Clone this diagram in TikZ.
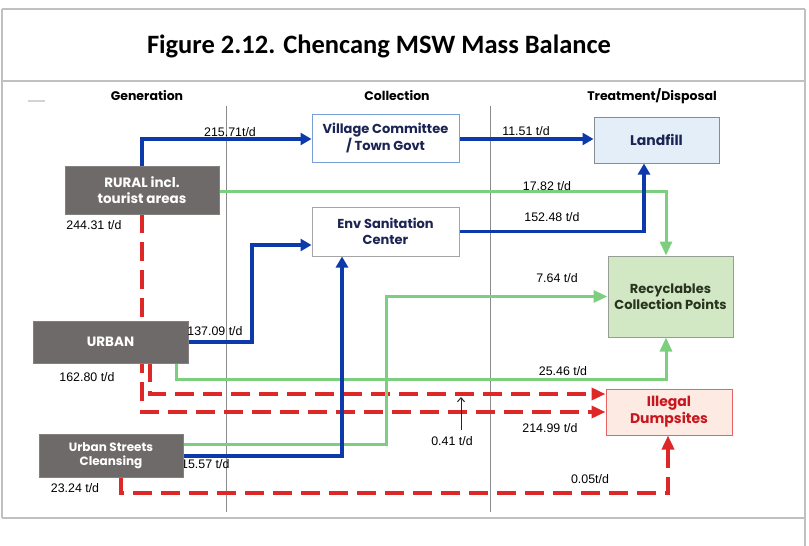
\documentclass[tikz,border=0pt]{standalone}
\usepackage{fontspec}
\setmainfont{Liberation Sans}
\newfontfamily\titlefont{Carlito}
\newfontfamily\gothic{Poppins}
\usetikzlibrary{arrows.meta,calc}
\pgfdeclarelayer{bg}
\pgfsetlayers{bg,main}
\definecolor{framegray}{RGB}{192,192,192}
\definecolor{sepgray}{RGB}{140,140,140}
\definecolor{srcgray}{RGB}{110,106,105}
\definecolor{flowblue}{RGB}{12,58,170}
\definecolor{flowgreen}{RGB}{125,207,128}
\definecolor{flowred}{RGB}{222,40,40}
\definecolor{navytext}{RGB}{28,36,84}
\definecolor{vilborder}{RGB}{120,160,215}
\definecolor{envborder}{RGB}{165,165,165}
\definecolor{lffill}{RGB}{228,238,249}
\definecolor{lfborder}{RGB}{135,140,148}
\definecolor{recfill}{RGB}{210,232,196}
\definecolor{recborder}{RGB}{150,158,150}
\definecolor{rectext}{RGB}{40,52,30}
\definecolor{illfill}{RGB}{253,235,227}
\definecolor{illborder}{RGB}{232,100,100}
\definecolor{illtext}{RGB}{200,22,30}
\begin{document}
\begin{tikzpicture}[x=1pt,y=-1pt,
  frameline/.style={draw=framegray,line width=1.8pt},
  sepline/.style={draw=sepgray,line width=0.9pt},
  srcbox/.style={fill=srcgray,draw=srcgray!85!white,line width=0.8pt,text=white,
    font=\gothic\bfseries\fontsize{13.5}{16}\selectfont,align=center,inner sep=0pt},
  colbox/.style={fill=white,line width=1pt,text=navytext,
    font=\gothic\bfseries\fontsize{13}{15.5}\selectfont,align=center,inner sep=0pt},
  hdr/.style={font=\gothic\bfseries\fontsize{12.5}{14}\selectfont,inner sep=0pt},
  flowlbl/.style={font=\fontsize{12.4}{14}\selectfont,inner sep=0pt},
  blueflow/.style={draw=flowblue,line width=3.6pt,-{Triangle[length=11pt,width=12pt]}},
  greenflow/.style={draw=flowgreen,line width=3pt,-{Triangle[length=14pt,width=12pt]}},
  redflow/.style={draw=flowred,line width=4pt,dash pattern=on 19pt off 9pt,
    -{Triangle[length=14pt,width=12pt]}}
]
\useasboundingbox (0,0) rectangle (809,546);
% frame
\draw[frameline] (2,9) -- (805,9);
\draw[frameline] (2,9) -- (2,518);
\draw[frameline] (805,9) -- (805,546);
\draw[frameline] (2,81) -- (805,81);
\draw[frameline] (2,518) -- (805,518);
\draw[draw=framegray!70,line width=1.2pt] (28,101) -- (45,101);
\node[font=\titlefont\bfseries\fontsize{26.5}{30}\selectfont,inner sep=0pt] (title) at (379,46) {Figure 2.12. Chencang MSW Mass Balance};
% headers
\node[hdr] (hgen) at (147,96) {Generation};
\node[hdr] (hcol) at (397,96) {Collection};
\node[hdr] (htrt) at (652,96) {Treatment/Disposal};
% boxes
\node[srcbox,minimum width=154pt,minimum height=48pt] (rural) at (142,190) {RURAL incl.\\tourist areas};
\node[srcbox,minimum width=155pt,minimum height=42pt] (urban) at (110.5,342) {URBAN};
\node[srcbox,minimum width=144pt,minimum height=43pt,font=\gothic\bfseries\fontsize{12}{14.5}\selectfont] (streets) at (111,455.5) {Urban Streets\\Cleansing};
\node[colbox,draw=vilborder,minimum width=147pt,minimum height=48pt] (village) at (385.5,138) {Village Committee\\/ Town Govt};
\node[colbox,draw=envborder,minimum width=147pt,minimum height=49pt] (env) at (385.5,231.5) {Env Sanitation\\Center};
\node[colbox,fill=lffill,draw=lfborder,minimum width=125pt,minimum height=46pt,font=\gothic\bfseries\fontsize{14}{16}\selectfont] (landfill) at (656.5,140) {Landfill};
\node[colbox,fill=recfill,draw=recborder,text=rectext,minimum width=125pt,minimum height=81pt] (recyc) at (670.5,296.5) {Recyclables\\Collection Points};
\node[colbox,fill=illfill,draw=illborder,text=illtext,minimum width=126pt,minimum height=46pt,font=\gothic\bfseries\fontsize{14}{17}\selectfont] (illegal) at (669,412) {Illegal\\Dumpsites};
% helper coordinates
\coordinate (b4) at (252,245);
\coordinate (g7) at (386,400);
\coordinate (g8) at (176,379);
\coordinate (r10) at (121,493);
\coordinate (p041) at (461,397);
\coordinate (q041) at (461,430);
\coordinate (vE) at ($(village.east)+(0,1)$);
\coordinate (vW) at ($(village.west)+(0,1)$);
\coordinate (lS) at ($(landfill.south)+(-12.5,0)$);
\coordinate (eS) at ($(env.south)+(-43.5,0)$);
\coordinate (sE) at ($(streets.east)+(0,0.5)$);
\coordinate (sEg) at ($(streets.east)+(0,-11.5)$);
\coordinate (sS) at ($(streets.south)+(10,0)$);
\coordinate (uS) at ($(urban.south)+(39.5,0)$);
\coordinate (iW) at ($(illegal.west)+(0,-18)$);
\coordinate (rE) at ($(rural.east)+(0,1)$);
\coordinate (rN) at ($(recyc.north)+(-4.5,0)$);
\coordinate (rS) at ($(recyc.south)+(-4.5,0)$);
\coordinate (iS) at ($(illegal.south)+(-1,0)$);
\begin{pgfonlayer}{bg}
\draw[sepline] (226,106) -- (226,512);
\draw[sepline] (490,106) -- (490,512);
% red flows
\draw[redflow] (rural.south) |- (illegal.west);
\draw[redflow] (uS) |- (iW);
\draw[redflow] (sS) -- (sS |- r10) -- (r10 -| iS) -- (iS);
% green flows
\draw[greenflow] (rE) -| (rN);
\draw[greenflow] (sEg) -- (sEg -| g7) -- (g7 |- recyc.west) -- (recyc.west);
\draw[greenflow] (g8 |- urban.south) -- (g8) -- (g8 -| rS) -- (rS);
% blue flows
\draw[blueflow] (rural.north) |- (vW);
\draw[blueflow] (vE) -- (vE -| landfill.west);
\draw[blueflow] (env.east) -| (lS);
\draw[blueflow] (urban.east) -| (b4) -- (b4 -| env.west);
\draw[blueflow] (sE) -| (eS);
\node[flowlbl,anchor=west] (l1557) at (181,464) {15.57 t/d};
\end{pgfonlayer}
% labels
\node[flowlbl] (l21571) at (230,132) {215.71t/d};
\node[flowlbl] (l1151) at (526,131) {11.51 t/d};
\node[flowlbl] (l1782) at (547,186) {17.82 t/d};
\node[flowlbl] (l15248) at (552,217) {152.48 t/d};
\node[flowlbl] (l764) at (557,278) {7.64 t/d};
\node[flowlbl] (l13709) at (215,331) {137.09 t/d};
\node[flowlbl] (l2546) at (563,371) {25.46 t/d};
\node[flowlbl] (l21499) at (550,428) {214.99 t/d};
\node[flowlbl] (l041) at (452,441) {0.41 t/d};
\node[flowlbl] (l005) at (590,479) {0.05t/d};
\node[flowlbl] (l24431) at (94,225) {244.31 t/d};
\node[flowlbl] (l16280) at (87,377) {162.80 t/d};
\node[flowlbl] (l2324) at (75,488) {23.24 t/d};
\draw[draw=black!85,line width=1pt,-{Straight Barb[length=4pt,width=7pt]}] (q041) -- (p041);
\end{tikzpicture}
\end{document}
